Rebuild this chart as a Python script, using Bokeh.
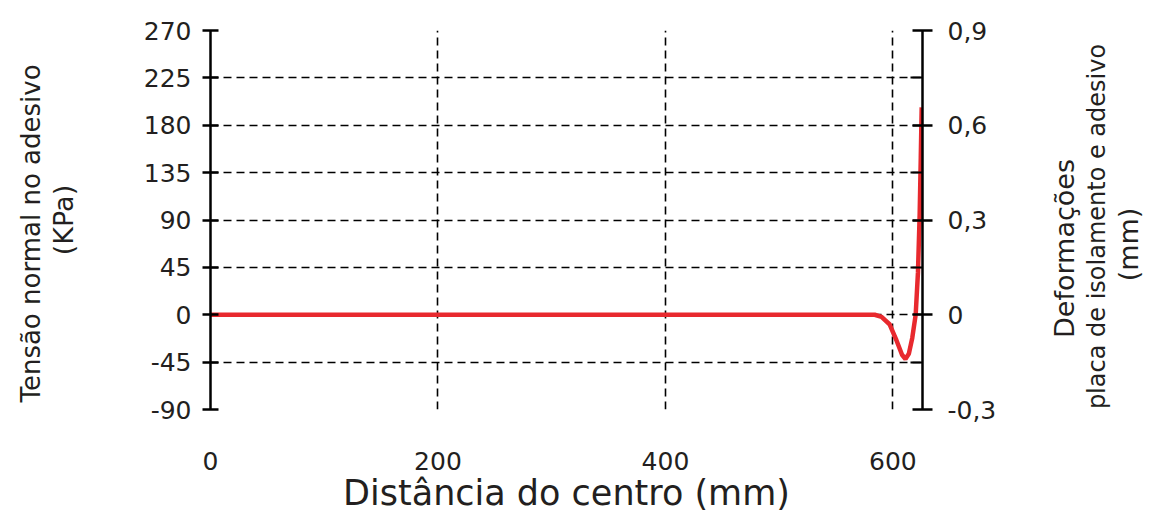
import math
from bokeh.plotting import figure
from bokeh.layouts import row
from bokeh.models import Range1d, LinearAxis, FixedTicker, Label
from bokeh.embed import file_html
from bokeh.resources import INLINE

# Data
dist = [0, 200, 400, 584, 590, 597, 603, 608, 611, 614, 617, 620, 622, 623.5, 624.5, 625.3]
tensao = [0, 0, 0, 0, -2, -9, -24, -38, -42, -37, -22, 0, 40, 95, 150, 197]

x_ticks = [0, 200, 400, 600]
left_ticks = [-90, -45, 0, 45, 90, 135, 180, 225, 270]
right_ticks = [-0.3, 0.0, 0.3, 0.6, 0.9]
right_labels = ["-0,3", "0", "0,3", "0,6", "0,9"]
right_minor = [-0.15, 0.15, 0.45, 0.75]

x_title = "Distância do centro (mm)"
left_title = ["Tensão normal no adesivo", "(KPa)"]
right_title = ["Deformações", "placa de isolamento e adesivo", "(mm)"]

FONT = "DejaVu Sans"
TXT = "#231f20"

# page layout (pixels): [left title strip][main plot][right title strip]
H = 528
W0, W2 = 90, 112
W1 = 1152 - W0 - W2
FL, FR, FT, FB = 210, 922, 30, 409  # frame edges on the page

p = figure(width=W1, height=H, output_backend="svg", toolbar_location=None,
           x_range=Range1d(0, 626), y_range=Range1d(-90, 270),
           min_border_left=FL - W0, min_border_right=W0 + W1 - FR,
           min_border_top=FT, min_border_bottom=H - FB,
           y_axis_location=None, x_axis_location=None)
p.outline_line_color = None

p.extra_y_ranges = {"def": Range1d(-0.3, 0.9)}

# grids
p.xgrid.ticker = FixedTicker(ticks=[200, 400, 600])
p.ygrid.ticker = FixedTicker(ticks=left_ticks)
for g in (p.xgrid, p.ygrid):
    g.grid_line_color = "black"
    g.grid_line_dash = "8 5"
    g.grid_line_width = 1.6

# bottom axis (no line)
xax = LinearAxis(ticker=FixedTicker(ticks=x_ticks))
xax.axis_line_color = None
xax.major_tick_line_color = None
xax.major_tick_out = 0
xax.major_tick_in = 0
xax.minor_tick_line_color = None
xax.major_label_standoff = 42
xax.major_label_text_font = FONT
xax.major_label_text_font_size = "25px"
xax.major_label_text_color = TXT
p.add_layout(xax, "below")

# left axis
lax = LinearAxis(ticker=FixedTicker(ticks=left_ticks))
lax.major_label_overrides = {t: str(t) for t in left_ticks}
lax.axis_line_width = 2.5
lax.major_tick_line_width = 2.5
lax.major_tick_in = 8
lax.major_tick_out = 8
lax.minor_tick_line_color = None
lax.major_label_standoff = 11
lax.major_label_text_font = FONT
lax.major_label_text_font_size = "25px"
lax.major_label_text_color = TXT
p.add_layout(lax, "left")

# right axis
rax = LinearAxis(y_range_name="def",
                 ticker=FixedTicker(ticks=right_ticks, minor_ticks=right_minor))
rax.major_label_overrides = dict(zip(right_ticks, right_labels))
rax.axis_line_width = 2.5
rax.major_tick_line_width = 2.5
rax.major_tick_in = 10
rax.major_tick_out = 10
rax.minor_tick_line_width = 2
rax.minor_tick_in = 12
rax.minor_tick_out = 0
rax.major_label_standoff = 15
rax.major_label_text_font = FONT
rax.major_label_text_font_size = "25px"
rax.major_label_text_color = TXT
p.add_layout(rax, "right")

# x title: label-only axis below the tick labels
tax = LinearAxis(ticker=FixedTicker(ticks=[]), axis_label=x_title)
tax.axis_line_color = None
tax.major_tick_line_color = None
tax.major_tick_in = 0
tax.major_tick_out = 0
tax.minor_tick_line_color = None
tax.minor_tick_in = 0
tax.minor_tick_out = 0
tax.major_label_standoff = 0
tax.axis_label_standoff = 0
tax.axis_label_text_font = FONT
tax.axis_label_text_font_size = "35px"
tax.axis_label_text_font_style = "normal"
tax.axis_label_text_color = TXT
p.add_layout(tax, "below")

p.line(dist, tensao, line_color="#e8292e", line_width=4.5)


# side strips carrying the rotated axis titles; their frames share the main
# plot's top/bottom edges, so the texts are kept inside that band
def strip(width):
    s = figure(width=width, height=H, output_backend="svg", toolbar_location=None,
               x_range=Range1d(0, 1), y_range=Range1d(0, 1),
               min_border_left=0, min_border_right=0,
               min_border_top=FT, min_border_bottom=H - FB,
               x_axis_location=None, y_axis_location=None)
    s.outline_line_color = None
    s.xgrid.visible = False
    s.ygrid.visible = False
    return s


def vtitle(fig, strip_left, text, cx, cy, size):
    # cx, cy: centre of the text on the page (pixels from top-left)
    fig.add_layout(Label(x=cx - strip_left, y=FB - cy, x_units="screen", y_units="screen",
                         text=text, angle=math.pi / 2, text_align="center",
                         text_baseline="middle", text_font=FONT,
                         text_font_size=size, text_color=TXT))


p0 = strip(W0)
vtitle(p0, 0, left_title[0], 30, 233, "26px")
vtitle(p0, 0, left_title[1], 63, 219.5, "27px")

p2 = strip(W2)
X2 = W0 + W1
vtitle(p2, X2, right_title[0], 1064, 248, "27px")
vtitle(p2, X2, right_title[1], 1096, 226, "24px")
vtitle(p2, X2, right_title[2], 1128, 244, "27px")

layout = row(p0, p, p2)
open("out.html", "w").write(file_html(layout, INLINE))
